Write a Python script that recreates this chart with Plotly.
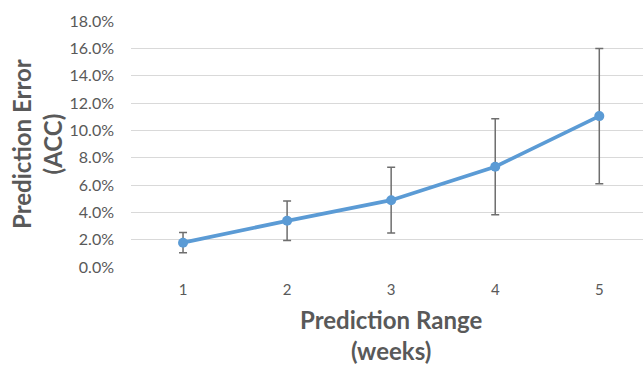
import plotly.graph_objects as go

weeks = [1, 2, 3, 4, 5]
errors = [1.78, 3.38, 4.89, 7.34, 11.04]
err_bars = [0.74, 1.45, 2.40, 3.51, 4.95]
y_ticks = [0, 2, 4, 6, 8, 10, 12, 14, 16, 18]
y_tick_labels = [f"{v:.1f}%" for v in y_ticks]

W, H = 643, 367
L, R, T, B = 131, 0, 21, 100

fig = go.Figure()
fig.add_trace(go.Scatter(
    x=weeks, y=errors, mode="lines+markers",
    line=dict(color="#5B9BD5", width=3.75),
    marker=dict(color="#5B9BD5", size=10),
    error_y=dict(type="data", array=err_bars, visible=True,
                 color="#6E6E6E", thickness=1.5, width=4),
    showlegend=False,
))

font_main = "Lato, Open Sans, sans-serif"
fig.update_layout(
    width=W, height=H,
    margin=dict(l=L, r=R, t=T, b=B),
    paper_bgcolor="white", plot_bgcolor="white",
    font=dict(family=font_main, color="#595959"),
    xaxis=dict(range=[0.5, 5.42], tickmode="array", tickvals=weeks,
               ticktext=[str(w) for w in weeks], showgrid=False,
               zeroline=False, showline=False,
               tickfont=dict(size=15, color="#595959"), ticklabelstandoff=12),
    yaxis=dict(range=[0, 18], tickmode="array", tickvals=y_ticks,
               ticktext=y_tick_labels, showgrid=True, gridcolor="#D9D9D9",
               gridwidth=1, zeroline=False, showline=False,
               tickfont=dict(size=16, color="#595959"), ticklabelstandoff=16),
    annotations=[
        dict(text="<b>Prediction Range<br>(weeks)</b>", xref="paper", yref="paper",
             x=(391 - L) / (W - L - R), y=-(303 - (H - B)) / (H - T - B),
             xanchor="center", yanchor="top", showarrow=False,
             font=dict(size=24, color="#595959", family=font_main)),
        dict(text="<b>Prediction Error<br>(ACC)</b>", xref="paper", yref="paper",
             x=-(L - 37) / (W - L - R), y=0.5, textangle=-90,
             xanchor="center", yanchor="middle", showarrow=False,
             font=dict(size=24, color="#595959", family=font_main)),
    ],
)

fig.write_html("out.html")
